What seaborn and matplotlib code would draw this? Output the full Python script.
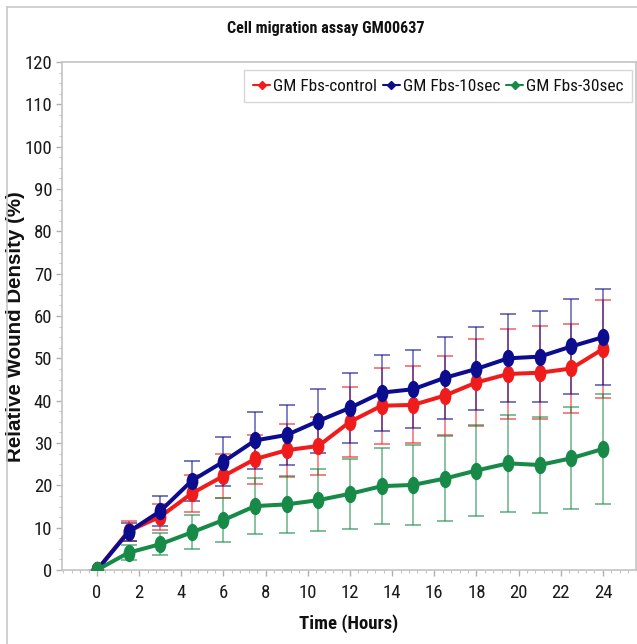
import matplotlib
matplotlib.use("Agg")
import matplotlib.pyplot as plt
from matplotlib import font_manager
from matplotlib.lines import Line2D
from matplotlib.path import Path
from matplotlib.transforms import Affine2D
from matplotlib.ticker import MultipleLocator
import pandas as pd
import seaborn as sns

# Wound closure over time (mean and SD, % relative wound density)
hours = [0, 1.5, 3, 4.5, 6, 7.5, 9, 10.5, 12, 13.5, 15, 16.5, 18, 19.5, 21, 22.5, 24]
groups = ["GM Fbs-control", "GM Fbs-10sec", "GM Fbs-30sec"]
control = [0, 9.2, 12.6, 18.1, 22.2, 26.2, 28.3, 29.3, 35.0, 38.8, 39.0, 41.2, 44.3, 46.3, 46.6, 47.6, 52.2]
control_sd = [0, 2.3, 3.1, 4.4, 5.1, 5.8, 6.3, 6.9, 8.2, 9.0, 9.1, 9.3, 10.3, 10.7, 11.0, 10.5, 11.6]
sec10 = [0, 9.0, 13.9, 21.1, 25.6, 30.6, 31.9, 35.2, 38.3, 41.9, 42.7, 45.4, 47.5, 50.0, 50.4, 52.8, 55.0]
sec10_sd = [0, 2.1, 3.6, 4.7, 5.8, 6.8, 7.0, 7.5, 8.2, 9.0, 9.2, 9.7, 9.8, 10.4, 10.7, 11.2, 11.4]
sec30 = [0, 4.1, 6.1, 8.9, 11.8, 15.1, 15.5, 16.5, 18.0, 19.8, 20.1, 21.6, 23.5, 25.2, 24.8, 26.4, 28.6]
sec30_sd = [0, 1.8, 2.6, 4.0, 5.2, 6.6, 6.8, 7.4, 8.2, 9.0, 9.5, 10.0, 10.7, 11.5, 11.4, 12.1, 13.0]
x_ticks = list(range(0, 25, 2))
y_ticks = list(range(0, 121, 10))

colors = {"GM Fbs-control": "#f01c1c", "GM Fbs-10sec": "#0c0c8e", "GM Fbs-30sec": "#178a48"}

sns.set_theme(style="white")

# pick a narrow sans face for titles, ticks and legend if one is installed
fonts = font_manager.fontManager.ttflist
narrow_stretches = ("condensed", "semi-condensed", "extra-condensed", "ultra-condensed")


def find_narrow():
    names = {f.name for f in fonts}
    for nm in ("Liberation Sans Narrow", "Arial Narrow", "Roboto Condensed",
               "Open Sans Condensed", "Noto Sans Condensed", "DejaVu Sans Condensed"):
        if nm in names:
            return nm, "normal"
    for nm in ("Noto Sans", "Roboto", "Open Sans", "DejaVu Sans"):
        for f in fonts:
            if f.name == nm and f.stretch in narrow_stretches:
                return nm, "condensed"
    for f in fonts:
        if "Narrow" in f.name or "Condensed" in f.name:
            return f.name, "normal"
    return None, "normal"


narrow_name, narrow_stretch = find_narrow()
if narrow_name is None:
    narrow_name, narrow_stretch, shrink = "Liberation Sans", "normal", 0.85
else:
    shrink = 1.0

plt.rcParams["font.family"] = [narrow_name, "DejaVu Sans"]
plt.rcParams["font.stretch"] = narrow_stretch

means = {"GM Fbs-control": control, "GM Fbs-10sec": sec10, "GM Fbs-30sec": sec30}
sds = {"GM Fbs-control": control_sd, "GM Fbs-10sec": sec10_sd, "GM Fbs-30sec": sec30_sd}

df = pd.concat(
    [pd.DataFrame({"Time": hours, "Density": means[g], "SD": sds[g], "Group": g}) for g in groups],
    ignore_index=True,
)

fig = plt.figure(figsize=(6.37, 6.44), dpi=100)
ax = fig.add_axes([62 / 637, 74 / 644, 574 / 637, 508 / 644])

# tall oval marker
oval = Path.unit_circle().transformed(Affine2D().scale(0.68, 1.0))

for g in groups:
    sub = df[df["Group"] == g]
    ax.errorbar(sub["Time"], sub["Density"], yerr=sub["SD"], fmt="none",
                ecolor=colors[g], alpha=0.6, elinewidth=1.2, capsize=5.5,
                capthick=1.3, zorder=2)
    sns.lineplot(data=sub, x="Time", y="Density", color=colors[g], ax=ax,
                 linewidth=2.9, marker=oval, markersize=12.5, markeredgewidth=0,
                 legend=False, zorder=3, estimator=None)

ax.set_xlim(-1.66, 25.57)
ax.set_ylim(0, 120)
ax.set_xticks(x_ticks)
ax.set_yticks(y_ticks)
ax.xaxis.set_minor_locator(MultipleLocator(0.4))
ax.yaxis.set_minor_locator(MultipleLocator(2.5))

for side in ["left", "bottom", "top", "right"]:
    ax.spines[side].set_color("#c4c4c4")
    ax.spines[side].set_linewidth(1.2)

ax.tick_params(axis="both", which="major", direction="out", length=4, width=1,
               color="#b0b0b0", labelsize=13.5 * shrink, labelcolor="#1a1a1a",
               bottom=True, left=True)
ax.tick_params(axis="x", which="major", pad=6)
ax.tick_params(axis="y", which="major", pad=3)
ax.tick_params(axis="both", which="minor", direction="out", length=2.5, width=0.8,
               color="#c4c4c4", bottom=True, left=True)

ax.set_xlabel("Time (Hours)", fontsize=13.5 * shrink, fontweight="bold", color="#111111")
ax.xaxis.set_label_coords((349 - 62) / 574, -(614 - 570) / 508)
ax.set_ylabel("Relative Wound Density (%)", fontsize=14.8, fontweight="bold", color="#111111",
              family=["Liberation Sans", "DejaVu Sans"], fontstretch="normal")
ax.yaxis.set_label_coords((25 - 62) / 574, (570 - 327) / 508)

fig.text(326 / 637, 1 - 28 / 644, "Cell migration assay GM00637", ha="center", va="center",
         fontsize=11.6 * shrink, fontweight="bold", color="#111111")

handles = [Line2D([0], [0], color=colors[g], linewidth=1.5, marker="D", markersize=4.5)
           for g in groups]
leg = ax.legend(handles, groups, loc="upper right", bbox_to_anchor=(0.993, 0.984),
                ncol=3, frameon=True, fancybox=False, edgecolor="#cccccc",
                fontsize=12.4 * shrink, handlelength=1.0, handletextpad=0.15,
                columnspacing=0.35, borderpad=0.5, borderaxespad=0)
leg.get_frame().set_linewidth(1.0)
for t in leg.get_texts():
    t.set_color("#111111")

# outer frame lines along the left and top edges
fig.add_artist(Line2D([7 / 637, 7 / 637], [0, 1 - 7 / 644], transform=fig.transFigure,
                      color="#c8c8c8", linewidth=1.2))
fig.add_artist(Line2D([7 / 637, 1], [1 - 7 / 644, 1 - 7 / 644], transform=fig.transFigure,
                      color="#c8c8c8", linewidth=1.2))

fig.savefig("out.png", dpi=100, facecolor="white")
